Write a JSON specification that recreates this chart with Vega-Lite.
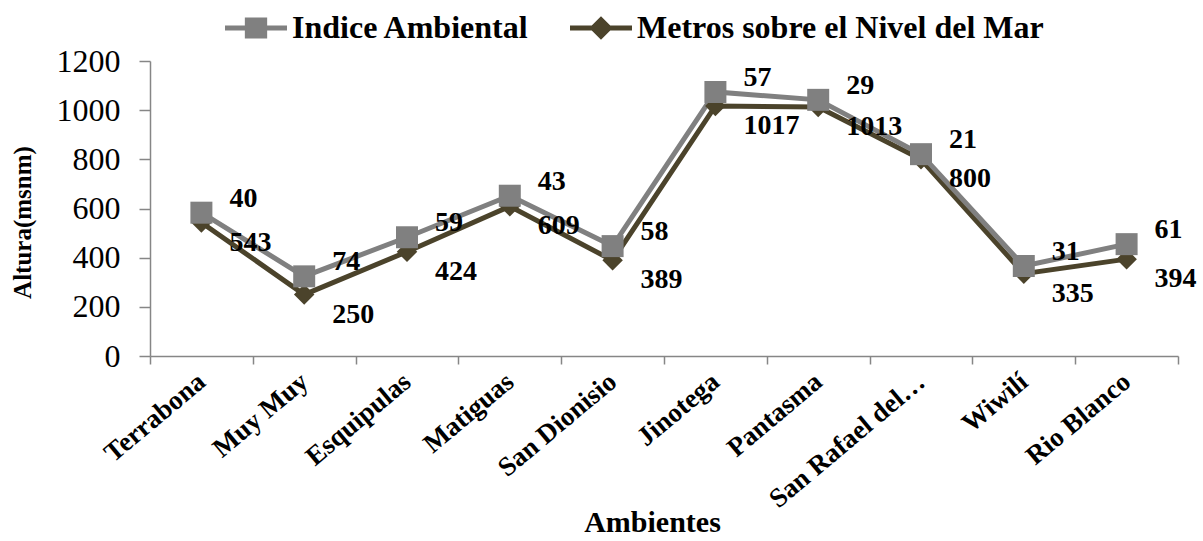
{
  "$schema": "https://vega.github.io/schema/vega-lite/v6.json",
  "width": 1028,
  "height": 295,
  "autosize": {"type": "none"},
  "padding": {"left": 150, "top": 61, "right": 25, "bottom": 185},
  "background": "white",
  "config": {
    "view": {"stroke": null},
    "font": "Liberation Serif, Times New Roman, serif",
    "legend": {"padding": 0}
  },
  "data": {
    "values": [
      {"Ambiente": "Terrabona", "Serie": "Metros sobre el Nivel del Mar", "Valor": 543},
      {"Ambiente": "Muy Muy", "Serie": "Metros sobre el Nivel del Mar", "Valor": 250},
      {"Ambiente": "Esquipulas", "Serie": "Metros sobre el Nivel del Mar", "Valor": 424},
      {"Ambiente": "Matiguas", "Serie": "Metros sobre el Nivel del Mar", "Valor": 609},
      {"Ambiente": "San Dionisio", "Serie": "Metros sobre el Nivel del Mar", "Valor": 389},
      {"Ambiente": "Jinotega", "Serie": "Metros sobre el Nivel del Mar", "Valor": 1017},
      {"Ambiente": "Pantasma", "Serie": "Metros sobre el Nivel del Mar", "Valor": 1013},
      {"Ambiente": "San Rafael del…", "Serie": "Metros sobre el Nivel del Mar", "Valor": 800},
      {"Ambiente": "Wiwilí", "Serie": "Metros sobre el Nivel del Mar", "Valor": 335},
      {"Ambiente": "Rio Blanco", "Serie": "Metros sobre el Nivel del Mar", "Valor": 394},
      {"Ambiente": "Terrabona", "Serie": "Indice Ambiental", "Valor": 40},
      {"Ambiente": "Muy Muy", "Serie": "Indice Ambiental", "Valor": 74},
      {"Ambiente": "Esquipulas", "Serie": "Indice Ambiental", "Valor": 59},
      {"Ambiente": "Matiguas", "Serie": "Indice Ambiental", "Valor": 43},
      {"Ambiente": "San Dionisio", "Serie": "Indice Ambiental", "Valor": 58},
      {"Ambiente": "Jinotega", "Serie": "Indice Ambiental", "Valor": 57},
      {"Ambiente": "Pantasma", "Serie": "Indice Ambiental", "Valor": 29},
      {"Ambiente": "San Rafael del…", "Serie": "Indice Ambiental", "Valor": 21},
      {"Ambiente": "Wiwilí", "Serie": "Indice Ambiental", "Valor": 31},
      {"Ambiente": "Rio Blanco", "Serie": "Indice Ambiental", "Valor": 61}
    ]
  },
  "transform": [
    {"stack": "Valor", "groupby": ["Ambiente"], "sort": [{"field": "Serie", "order": "descending"}], "as": ["y0", "y1"]}
  ],
  "encoding": {
    "x": {
      "field": "Ambiente",
      "type": "nominal",
      "bandPosition": 0.5,
      "sort": ["Terrabona", "Muy Muy", "Esquipulas", "Matiguas", "San Dionisio", "Jinotega", "Pantasma", "San Rafael del…", "Wiwilí", "Rio Blanco"],
      "scale": {"type": "band", "paddingInner": 0, "paddingOuter": 0},
      "axis": {
        "title": "Ambientes",
        "titleFontSize": 30,
        "titleFontWeight": "bold",
        "titleColor": "black",
        "titleX": 502,
        "titleY": 175,
        "titleBaseline": "alphabetic",
        "titleAlign": "center",
        "labelAngle": -40,
        "labelAlign": "right",
        "labelBaseline": "middle",
        "labelFontSize": 27,
        "labelFontWeight": "bold",
        "labelColor": "black",
        "labelPadding": 14,
        "labelLimit": 400,
        "labelOverlap": false,
        "tickBand": "extent",
        "tickSize": 8,
        "tickColor": "#868686",
        "tickWidth": 1.5,
        "domainColor": "#868686",
        "domainWidth": 1.5,
        "grid": false
      }
    },
    "y": {
      "field": "y1",
      "type": "quantitative",
      "scale": {"domain": [0, 1200]},
      "axis": {
        "title": "Altura(msnm)",
        "titleFontSize": 25,
        "titleFontWeight": "bold",
        "titleColor": "black",
        "titleX": -128,
        "titleY": 161,
        "titleAngle": -90,
        "titleAlign": "center",
        "titleBaseline": "middle",
        "values": [0, 200, 400, 600, 800, 1000, 1200],
        "format": "d",
        "labelFontSize": 32,
        "labelColor": "black",
        "labelPadding": 19,
        "tickSize": 11,
        "tickColor": "#868686",
        "tickWidth": 1.5,
        "domainColor": "#868686",
        "domainWidth": 1.5,
        "grid": false
      }
    }
  },
  "layer": [
    {
      "mark": {"type": "line", "strokeWidth": 5},
      "encoding": {
        "color": {
          "field": "Serie",
          "type": "nominal",
          "scale": {"domain": ["Indice Ambiental", "Metros sobre el Nivel del Mar"], "range": ["#808080", "#4b432b"]},
          "legend": {
            "title": null,
            "orient": "none",
            "legendX": 75,
            "legendY": -64,
            "direction": "horizontal",
            "labelFontSize": 32,
            "labelFontWeight": "bold",
            "labelColor": "black",
            "labelOffset": 5,
            "labelLimit": 600,
            "columnPadding": 40,
            "symbolSize": 3844,
            "symbolStrokeWidth": 0,
            "encode": {
              "symbols": {
                "update": {
                  "shape": {"signal": "datum.value === 'Indice Ambiental' ? 'M-1,-0.08H1V0.08H-1Z M-0.36,-0.34H0.36V0.34H-0.36Z' : 'M-1,-0.08H1V0.08H-1Z M0,-0.38L0.38,0L0,0.38L-0.38,0Z'"},
                  "fill": {"signal": "datum.value === 'Indice Ambiental' ? '#808080' : '#4b432b'"},
                  "fillOpacity": {"value": 1},
                  "opacity": {"value": 1},
                  "strokeWidth": {"value": 0}
                }
              }
            }
          }
        }
      }
    },
    {
      "transform": [{"filter": "datum.Serie === 'Metros sobre el Nivel del Mar'"}],
      "mark": {"type": "point", "shape": "diamond", "filled": true, "size": 420, "opacity": 1, "color": "#4b432b"}
    },
    {
      "transform": [{"filter": "datum.Serie === 'Indice Ambiental'"}],
      "mark": {"type": "point", "shape": "square", "filled": true, "size": 484, "opacity": 1, "color": "#808080"}
    },
    {
      "transform": [{"filter": "datum.Serie === 'Metros sobre el Nivel del Mar'"}],
      "mark": {"type": "text", "align": "left", "baseline": "middle", "dx": 28, "dy": 20, "fontSize": 28, "fontWeight": "bold", "color": "black"},
      "encoding": {"text": {"field": "Valor", "type": "quantitative", "format": "d"}}
    },
    {
      "transform": [{"filter": "datum.Serie === 'Indice Ambiental'"}],
      "mark": {"type": "text", "align": "left", "baseline": "middle", "dx": 28, "dy": -14, "fontSize": 28, "fontWeight": "bold", "color": "black"},
      "encoding": {"text": {"field": "Valor", "type": "quantitative", "format": "d"}}
    }
  ]
}
